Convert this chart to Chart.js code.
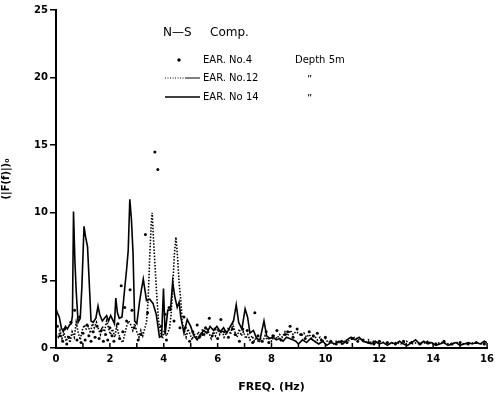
<!DOCTYPE html>
<html lang="en">
<head>
  <meta charset="UTF-8" />
  <title>N-S Comp. spectra</title>
  <style>
    html, body { margin: 0; padding: 0; background: #fff; }
    #wrap { width: 499px; height: 394px; }
  </style>
</head>
<body>
  <div id="wrap"><canvas id="spec" width="499" height="394"></canvas></div>

  <script src="https://cdn.jsdelivr.net/npm/chart.js"></script>
  <script>
    // EAR. No 14 (solid line)
    const freq14 = [
      0, 0.05, 0.12, 0.2, 0.27, 0.35, 0.42, 0.5, 0.57, 0.61,
      0.65, 0.7, 0.75, 0.82, 0.9, 0.96, 1.04, 1.1, 1.17, 1.23,
      1.3, 1.38, 1.48, 1.56, 1.62, 1.72, 1.8, 1.88, 1.95, 2.03,
      2.1, 2.17, 2.22, 2.28, 2.35, 2.45, 2.55, 2.62, 2.68, 2.74,
      2.8, 2.86, 2.92, 3.0, 3.1, 3.17, 3.24, 3.3, 3.36, 3.48,
      3.6, 3.72, 3.84, 3.92, 3.99, 4.05, 4.15, 4.25, 4.33, 4.41,
      4.5, 4.57, 4.63, 4.75, 4.87, 5.0, 5.12, 5.24, 5.36, 5.49,
      5.6, 5.72, 5.85, 5.97, 6.1, 6.22, 6.34, 6.47, 6.59, 6.69,
      6.78, 6.9, 7.02, 7.11, 7.2, 7.33, 7.45, 7.57, 7.72, 7.82,
      7.94, 8.05, 8.18, 8.3, 8.43, 8.55, 8.67, 8.8, 8.9, 9.0,
      9.15, 9.3, 9.45, 9.6, 9.75, 9.9, 10.05, 10.2, 10.35, 10.5,
      10.65, 10.8, 10.95, 11.1, 11.25, 11.4, 11.55, 11.7, 11.85, 12.0,
      12.15, 12.3, 12.45, 12.6, 12.75, 12.9, 13.05, 13.2, 13.35, 13.5,
      13.65, 13.8, 13.95, 14.1, 14.25, 14.4, 14.55, 14.7, 14.85, 15.0,
      15.15, 15.3, 15.45, 15.6, 15.75, 15.9, 16.0
    ];
    const amp14 = [
      2.9, 2.6, 2.3, 1.5, 1.2, 1.6, 1.4, 1.7, 1.8, 2.4,
      10.1, 6.5, 4.2, 1.9, 2.2, 4.5, 9.0, 8.2, 7.5, 5.0,
      2.0, 1.9, 2.2, 3.1, 2.5, 2.0, 2.2, 2.4, 2.0, 2.4,
      2.1, 1.8, 3.7, 2.6, 2.2, 2.3, 4.4, 5.8, 7.2, 11.0,
      9.5, 7.0, 2.0, 1.8, 3.4, 4.3, 5.1, 4.3, 3.5, 3.6,
      3.3, 2.5, 0.8, 0.9, 4.4, 1.0, 2.8, 2.8, 4.9, 3.8,
      3.0, 3.4, 2.3, 1.1, 2.1, 1.6, 0.9, 0.6, 1.0, 1.3,
      1.1, 1.6, 1.3, 1.6, 1.2, 1.5, 1.1, 1.6, 2.0, 3.2,
      1.9, 1.4, 2.9, 2.3, 1.1, 1.3, 0.7, 0.6, 2.0, 0.9,
      0.7, 0.8, 0.6, 0.7, 0.5, 0.8, 0.7, 0.6, 0.5, 0.3,
      0.6, 0.4, 0.7, 0.5, 0.3, 0.5, 0.2, 0.4, 0.3, 0.5,
      0.3, 0.6, 0.8, 0.6, 0.8, 0.5, 0.4, 0.3, 0.5, 0.3,
      0.4, 0.2, 0.4, 0.3, 0.5, 0.3, 0.2, 0.4, 0.6, 0.3,
      0.5, 0.3, 0.4, 0.2, 0.3, 0.4, 0.2, 0.3, 0.4, 0.2,
      0.3, 0.4, 0.3, 0.4, 0.3, 0.5, 0.4
    ];

    // EAR. No.12 (dotted line)
    const freq12 = [
      0, 0.08, 0.15, 0.22, 0.3, 0.38, 0.45, 0.52, 0.6, 0.68,
      0.75, 0.82, 0.9, 0.97, 1.05, 1.12, 1.2, 1.28, 1.35, 1.42,
      1.5, 1.58, 1.65, 1.72, 1.8, 1.88, 1.95, 2.02, 2.1, 2.18,
      2.25, 2.32, 2.4, 2.48, 2.55, 2.62, 2.7, 2.78, 2.85, 2.92,
      3.0, 3.08, 3.15, 3.22, 3.3, 3.36, 3.42, 3.48, 3.53, 3.57,
      3.62, 3.69, 3.75, 3.81, 3.88, 3.95, 4.02, 4.1, 4.16, 4.21,
      4.27, 4.33, 4.39, 4.45, 4.51, 4.57, 4.63, 4.69, 4.76, 4.83,
      4.9, 4.98, 5.05, 5.13, 5.2, 5.28, 5.36, 5.44, 5.52, 5.6,
      5.68, 5.76, 5.84, 5.92, 6.0, 6.08, 6.16, 6.24, 6.32, 6.4,
      6.48, 6.56, 6.64, 6.72, 6.8, 6.88, 6.96, 7.04, 7.12, 7.2,
      7.28, 7.36, 7.44, 7.52, 7.6, 7.68, 7.76, 7.84, 7.92, 8.0,
      8.1, 8.2, 8.3, 8.4, 8.5, 8.6, 8.7, 8.8, 8.9, 9.0,
      9.1, 9.2, 9.3, 9.4, 9.5, 9.6, 9.7, 9.8, 9.9, 10.0,
      10.1, 10.2, 10.3, 10.4, 10.5, 10.6, 10.7, 10.8, 10.9, 11.0,
      11.1, 11.2, 11.3, 11.4, 11.5, 11.6, 11.7, 11.8, 11.9, 12.0,
      12.2, 12.4, 12.6, 12.8, 13.0, 13.2, 13.4, 13.6, 13.8, 14.0,
      14.3, 14.6, 14.9, 15.2, 15.5, 15.8, 16.0
    ];
    const amp12 = [
      1.0, 0.8, 1.3, 0.7, 1.1, 0.5, 0.9, 0.4, 1.2, 0.8,
      1.9, 1.2, 0.6, 1.3, 1.7, 1.4, 1.6, 1.1, 1.8, 1.5,
      1.9, 1.4, 1.0, 1.6, 1.2, 2.0, 1.5, 1.0, 1.4, 0.8,
      1.6, 1.1, 0.6, 0.4, 1.0, 1.6, 2.0, 1.7, 1.3, 1.8,
      1.2, 0.8, 1.3, 0.9, 1.5, 1.9, 3.6, 6.8, 9.0, 10.0,
      8.0, 5.6, 3.6, 1.9, 1.2, 0.7, 1.3, 0.9, 1.2, 1.4,
      2.4, 4.3, 6.8, 8.2, 6.8, 4.8, 3.6, 1.9, 1.3, 0.8,
      1.4, 1.0, 0.6, 1.1, 0.7, 1.2, 0.8, 1.4, 1.0, 1.5,
      1.1, 0.7, 1.2, 0.9, 1.4, 1.0, 1.3, 0.8, 1.1, 1.5,
      1.0, 1.8, 1.2, 0.8, 1.4, 0.9, 1.2, 0.7, 1.0, 0.6,
      0.9, 0.5, 0.8, 0.4, 0.7, 0.5, 0.9, 0.6, 0.8, 0.5,
      0.9, 0.7, 1.0, 0.8, 1.2, 0.9, 1.3, 1.0, 1.2, 1.1,
      0.9, 1.1, 0.8, 1.0, 0.7, 0.9, 0.6, 0.8, 0.5, 0.7,
      0.4, 0.5, 0.3, 0.5, 0.4, 0.3, 0.5, 0.4, 0.6, 0.7,
      0.8, 0.6, 0.7, 0.5, 0.4, 0.6, 0.4, 0.5, 0.3, 0.5,
      0.4, 0.3, 0.4, 0.3, 0.5, 0.3, 0.4, 0.3, 0.5, 0.3,
      0.4, 0.3, 0.4, 0.3, 0.4, 0.3, 0.4
    ];

    // EAR. No.4 (single dots)
    const freq4 = [
      0.05, 0.15, 0.25, 0.32, 0.4, 0.48, 0.55, 0.69, 0.78, 0.87,
      0.93, 1.0, 1.08, 1.15, 1.22, 1.3, 1.38, 1.45, 1.52, 1.6,
      1.68, 1.76, 1.84, 1.92, 2.0, 2.08, 2.15, 2.3, 2.36, 2.42,
      2.48, 2.55, 2.62, 2.75, 2.82, 2.9, 3.05, 3.15, 3.32, 3.4,
      3.67, 3.78, 3.9, 4.05, 4.1, 4.2, 4.38, 4.6, 4.75, 4.8,
      4.96, 5.08, 5.24, 5.32, 5.45, 5.55, 5.69, 5.8, 5.9, 6.0,
      6.12, 6.25, 6.4, 6.55, 6.65, 6.81, 6.93, 7.1, 7.3, 7.38,
      7.5, 7.65, 7.8, 7.9, 8.05, 8.2, 8.35, 8.5, 8.6, 8.69,
      8.8, 8.95, 9.1, 9.25, 9.4, 9.55, 9.7, 9.85, 10.0, 10.2,
      10.4, 10.6, 10.8, 11.0, 11.2, 11.4, 11.6, 11.8, 12.0, 12.3,
      12.6, 12.9, 13.2, 13.5, 13.8, 14.1, 14.4, 14.7, 15.0, 15.3,
      15.6, 15.9
    ];
    const amp4 = [
      1.6, 0.9, 0.5, 1.4, 0.3, 0.8, 1.9, 2.8, 0.6, 2.3,
      0.4, 1.1, 0.6, 1.7, 0.9, 0.5, 1.2, 0.8, 1.6, 0.7,
      1.3, 0.5, 1.0, 0.6, 1.5, 0.9, 0.5, 1.8, 0.7, 4.6,
      1.2, 3.0, 2.0, 4.3, 2.8, 1.5, 0.6, 1.0, 8.4, 2.6,
      14.5, 13.2, 1.6, 2.5, 0.6, 3.0, 2.0, 1.5, 2.3, 1.5,
      0.5, 1.2, 1.7, 0.8, 1.0, 1.5, 2.2, 0.9, 1.4, 0.7,
      2.1, 1.2, 0.8, 1.4, 1.0, 0.5, 1.4, 1.3, 0.4, 2.6,
      0.9, 0.5, 1.2, 0.4, 0.9, 1.3, 0.6, 1.0, 1.2, 1.6,
      0.8, 1.4, 1.0, 0.7, 1.2, 0.9, 1.1, 0.6, 0.8, 0.5,
      0.3, 0.5, 0.4, 0.7, 0.5, 0.6, 0.4, 0.3, 0.5, 0.4,
      0.3, 0.5, 0.4, 0.3, 0.4, 0.3, 0.5, 0.3, 0.4, 0.3,
      0.4, 0.3
    ];

    const xTicks = [0, 2, 4, 6, 8, 10, 12, 14, 16];
    const yTicks = [0, 5, 10, 15, 20, 25];

    const pts = (fs, as) => fs.map((f, i) => ({ x: f, y: as[i] }));
    const FONT = "'DejaVu Sans', sans-serif";

    // short upward ticks on the frequency axis, one per Hz
    const innerTicks = {
      id: 'innerTicks',
      afterDraw(chart) {
        const { ctx, chartArea, scales } = chart;
        ctx.save();
        ctx.strokeStyle = '#000';
        ctx.lineWidth = 1.5;
        ctx.beginPath();
        for (let f = 0; f <= 16; f++) {
          const px = scales.x.getPixelForValue(f);
          ctx.moveTo(px, chartArea.bottom);
          ctx.lineTo(px, chartArea.bottom - 5);
        }
        ctx.stroke();
        ctx.restore();
      }
    };

    // key block in the upper middle of the plot
    const keyBlock = {
      id: 'keyBlock',
      afterDraw(chart) {
        const ctx = chart.ctx;
        ctx.save();
        ctx.fillStyle = '#000';
        ctx.strokeStyle = '#000';
        ctx.textBaseline = 'middle';
        ctx.font = '12px ' + FONT;
        ctx.fillText('N\u2014S', 163, 33);
        ctx.fillText('Comp.', 210, 33);

        ctx.font = '10px ' + FONT;
        ctx.beginPath();
        ctx.arc(179, 60, 1.7, 0, Math.PI * 2);
        ctx.fill();
        ctx.fillText('EAR. No.4', 203, 60);
        ctx.fillText('Depth 5m', 295, 60);

        ctx.lineWidth = 1;
        ctx.setLineDash([1, 1.5]);
        ctx.beginPath();
        ctx.moveTo(165, 78); ctx.lineTo(186, 78);
        ctx.stroke();
        ctx.setLineDash([]);
        ctx.beginPath();
        ctx.moveTo(186, 78); ctx.lineTo(200, 78);
        ctx.stroke();
        ctx.fillText('EAR. No.12', 203, 78);
        ctx.fillText('\u201D', 307, 80);

        ctx.lineWidth = 1.5;
        ctx.beginPath();
        ctx.moveTo(165, 97); ctx.lineTo(200, 97);
        ctx.stroke();
        ctx.fillText('EAR. No 14', 203, 97);
        ctx.fillText('\u201D', 307, 99);
        ctx.restore();
      }
    };

    new Chart(document.getElementById('spec'), {
      type: 'scatter',
      data: {
        datasets: [
          {
            label: 'EAR. No.4',
            data: pts(freq4, amp4),
            showLine: false,
            pointRadius: 1.5,
            pointBackgroundColor: '#000',
            pointBorderWidth: 0
          },
          {
            label: 'EAR. No.12',
            data: pts(freq12, amp12),
            showLine: true,
            borderColor: '#000',
            borderWidth: 1.6,
            borderDash: [1.5, 1.6],
            pointRadius: 0,
            tension: 0
          },
          {
            label: 'EAR. No 14',
            data: pts(freq14, amp14),
            showLine: true,
            borderColor: '#000',
            borderWidth: 1.6,
            pointRadius: 0,
            tension: 0
          }
        ]
      },
      options: {
        responsive: false,
        animation: false,
        layout: { padding: { top: 10, right: 3, left: 0, bottom: 0 } },
        plugins: { legend: { display: false }, tooltip: { enabled: false } },
        scales: {
          x: {
            type: 'linear',
            min: 0,
            max: 16,
            afterFit(scale) { scale.height = 46; },
            afterBuildTicks(scale) { scale.ticks = xTicks.map(v => ({ value: v })); },
            grid: { drawOnChartArea: false, drawTicks: false },
            border: { display: true, color: '#000', width: 2 },
            ticks: { color: '#000', padding: 5, maxRotation: 0, font: { family: FONT, size: 10, weight: 'bold' } },
            title: {
              display: true,
              text: 'FREQ. (Hz)',
              color: '#000',
              padding: { top: 2, bottom: 0 },
              font: { family: FONT, size: 11, weight: 'bold' }
            }
          },
          y: {
            type: 'linear',
            min: 0,
            max: 25,
            afterFit(scale) { scale.width = 56; },
            afterBuildTicks(scale) { scale.ticks = yTicks.map(v => ({ value: v })); },
            grid: { drawOnChartArea: false, drawTicks: true, tickLength: 6, color: '#000', lineWidth: 1.5 },
            border: { display: true, color: '#000', width: 2 },
            ticks: { color: '#000', padding: 2, font: { family: FONT, size: 10, weight: 'bold' } },
            title: {
              display: true,
              text: '(|F(f)|)\u2080',
              color: '#000',
              padding: { top: 0, bottom: 2 },
              font: { family: FONT, size: 10, weight: 'bold' }
            }
          }
        }
      },
      plugins: [innerTicks, keyBlock]
    });
  </script>
</body>
</html>
